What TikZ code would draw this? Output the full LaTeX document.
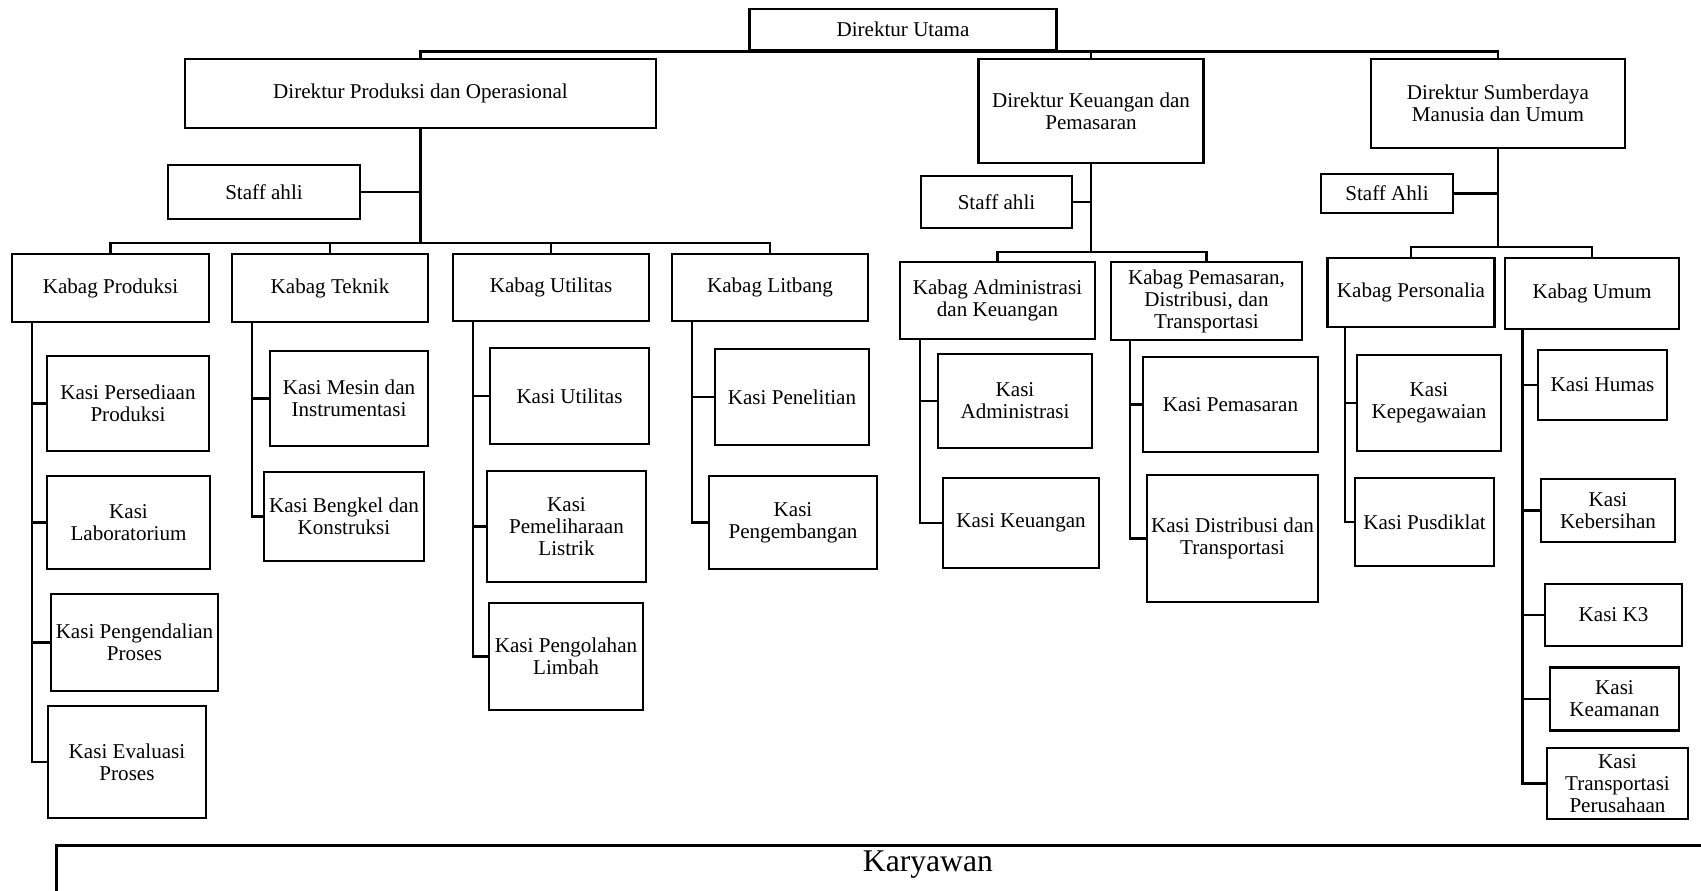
\documentclass[tikz,border=0pt]{standalone}
\usepackage{fontspec}
\setmainfont{Liberation Serif}

\tikzset{
    jabatan/.style={draw,line width=1.6pt,align=center,inner sep=1pt},
    sz/.style 2 args={minimum width=#1*0.02cm,minimum height=#2*0.02cm},
    garis/.style={line width=1.6pt},
}

\begin{document}
\begin{tikzpicture}[
    x=0.02cm,y=-0.02cm,
    line join=miter,
    every node/.style={font=\fontsize{12}{12.5}\selectfont},
]
\useasboundingbox (0,0) rectangle (1701,891);
\clip (0,0) rectangle (1701,891);

% direksi
\node[jabatan,sz={307}{41}] (dirut) at (903,29.5) {Direktur Utama};
\node[jabatan,sz={471}{69}] (dirprod) at (420.5,93.5) {Direktur Produksi dan Operasional};
\node[jabatan,sz={225}{104}] (dirkeu) at (1091,111) {Direktur Keuangan dan\\Pemasaran};
\node[jabatan,sz={254}{89}] (dirsdm) at (1498,103.5) {Direktur Sumberdaya\\Manusia dan Umum};

% staff ahli
\node[jabatan,sz={192}{54}] (staf1) at (264,192) {Staff ahli};
\node[jabatan,sz={151}{52}] (staf2) at (996.5,202) {Staff ahli};
\node[jabatan,sz={132}{39}] (staf3) at (1387,193.5) {Staff Ahli};

% kepala bagian
\node[jabatan,sz={197}{68}] (kbprod) at (110.5,288) {Kabag Produksi};
\node[jabatan,sz={196}{68}] (kbtek) at (330,288) {Kabag Teknik};
\node[jabatan,sz={196}{67}] (kbutil) at (551,287.5) {Kabag Utilitas};
\node[jabatan,sz={196}{67}] (kblit) at (770,287.5) {Kabag Litbang};
\node[jabatan,sz={195}{77}] (kbadm) at (997.5,300.5) {Kabag Administrasi\\dan Keuangan};
\node[jabatan,sz={191}{78}] (kbpem) at (1206.5,301) {Kabag Pemasaran,\\Distribusi, dan\\Transportasi};
\node[jabatan,sz={167}{69}] (kbper) at (1411,292.5) {Kabag Personalia};
\node[jabatan,sz={174}{71}] (kbum) at (1592,293.5) {Kabag Umum};

% kepala seksi
\node[jabatan,sz={162}{95}] (ks11) at (128,403.5) {Kasi Persediaan\\Produksi};
\node[jabatan,sz={163}{93}] (ks12) at (128.5,522.5) {Kasi\\Laboratorium};
\node[jabatan,sz={167}{97}] (ks13) at (134.5,642.5) {Kasi Pengendalian\\Proses};
\node[jabatan,sz={158}{112}] (ks14) at (127,762) {Kasi Evaluasi\\Proses};

\node[jabatan,sz={158}{95}] (ks21) at (349,398.5) {Kasi Mesin dan\\Instrumentasi};
\node[jabatan,sz={160}{89}] (ks22) at (344,516.5) {Kasi Bengkel dan\\Konstruksi};

\node[jabatan,sz={159}{96}] (ks31) at (569.5,396) {Kasi Utilitas};
\node[jabatan,sz={159}{111}] (ks32) at (566.5,526.5) {Kasi\\Pemeliharaan\\Listrik};
\node[jabatan,sz={154}{107}] (ks33) at (566,656.5) {Kasi Pengolahan\\Limbah};

\node[jabatan,sz={154}{96}] (ks41) at (792,397) {Kasi Penelitian};
\node[jabatan,sz={168}{93}] (ks42) at (793,522.5) {Kasi\\Pengembangan};

\node[jabatan,sz={154}{94}] (ks51) at (1015,401) {Kasi\\Administrasi};
\node[jabatan,sz={156}{90}] (ks52) at (1021,523) {Kasi Keuangan};

\node[jabatan,sz={175}{95}] (ks61) at (1230.5,404.5) {Kasi Pemasaran};
\node[jabatan,sz={171}{127}] (ks62) at (1232.5,538.5) {Kasi Distribusi dan\\Transportasi};

\node[jabatan,sz={144}{96}] (ks71) at (1429,403) {Kasi\\Kepegawaian};
\node[jabatan,sz={139}{88}] (ks72) at (1424.5,522) {Kasi Pusdiklat};

\node[jabatan,sz={129}{70}] (ks81) at (1602.5,385) {Kasi Humas};
\node[jabatan,sz={134}{63}] (ks82) at (1608,510.5) {Kasi\\Kebersihan};
\node[jabatan,sz={137}{62}] (ks83) at (1613.5,615) {Kasi K3};
\node[jabatan,sz={129}{63}] (ks84) at (1614.5,699) {Kasi\\Keamanan};
\node[jabatan,sz={141}{71}] (ks85) at (1617.5,783.5) {Kasi\\Transportasi\\Perusahaan};

% karyawan (runs off the page)
\node[jabatan,anchor=north west,minimum width=1743*0.02cm,
  inner ysep=3pt,text depth=60pt,font=\fontsize{18}{20}\selectfont]
  (karyawan) at (55,844) {Karyawan};

% garis direksi
\draw[garis] (dirprod.north) |- (dirut.south -| dirsdm.north) -- (dirsdm.north);
\draw[garis] (dirkeu.north) -- (dirkeu.north |- dirut.south);

% garis staff
\draw[garis] (staf1.east) -- (staf1.east -| dirprod.south);
\draw[garis] (staf2.east) -- (staf2.east -| dirkeu.south);
\draw[garis] (staf3.east) -- (staf3.east -| dirsdm.south);

% garis kabag
\coordinate (bus1) at (420.5,243);
\coordinate (bus2) at (1091,252);
\coordinate (bus3) at (1498,247);
\draw[garis] (dirprod.south) -- (bus1);
\draw[garis] (kbprod.north) |- (bus1) -| (kblit.north);
\draw[garis] (kbtek.north) -- (kbtek.north |- bus1);
\draw[garis] (kbutil.north) -- (kbutil.north |- bus1);
\draw[garis] (dirkeu.south) -- (bus2);
\draw[garis] (kbadm.north) |- (bus2) -| (kbpem.north);
\draw[garis] (dirsdm.south) -- (bus3);
\draw[garis] (kbper.north) |- (bus3) -| (kbum.north);

% garis kasi
\coordinate (t1) at (32,0);
\coordinate (t2) at (252,0);
\coordinate (t3) at (473,0);
\coordinate (t4) at (692,0);
\coordinate (t5) at (920,0);
\coordinate (t6) at (1130,0);
\coordinate (t7) at (1345,0);
\coordinate (t8) at (1522.5,0);
\foreach \k in {ks11,ks12,ks13,ks14} \draw[garis] (kbprod.south -| t1) |- (\k.west);
\foreach \k in {ks21,ks22} \draw[garis] (kbtek.south -| t2) |- (\k.west);
\foreach \k in {ks31,ks32,ks33} \draw[garis] (kbutil.south -| t3) |- (\k.west);
\foreach \k in {ks41,ks42} \draw[garis] (kblit.south -| t4) |- (\k.west);
\foreach \k in {ks51,ks52} \draw[garis] (kbadm.south -| t5) |- (\k.west);
\foreach \k in {ks61,ks62} \draw[garis] (kbpem.south -| t6) |- (\k.west);
\foreach \k in {ks71,ks72} \draw[garis] (kbper.south -| t7) |- (\k.west);
\foreach \k in {ks81,ks82,ks83,ks84,ks85} \draw[garis] (kbum.south -| t8) |- (\k.west);
\end{tikzpicture}
\end{document}
